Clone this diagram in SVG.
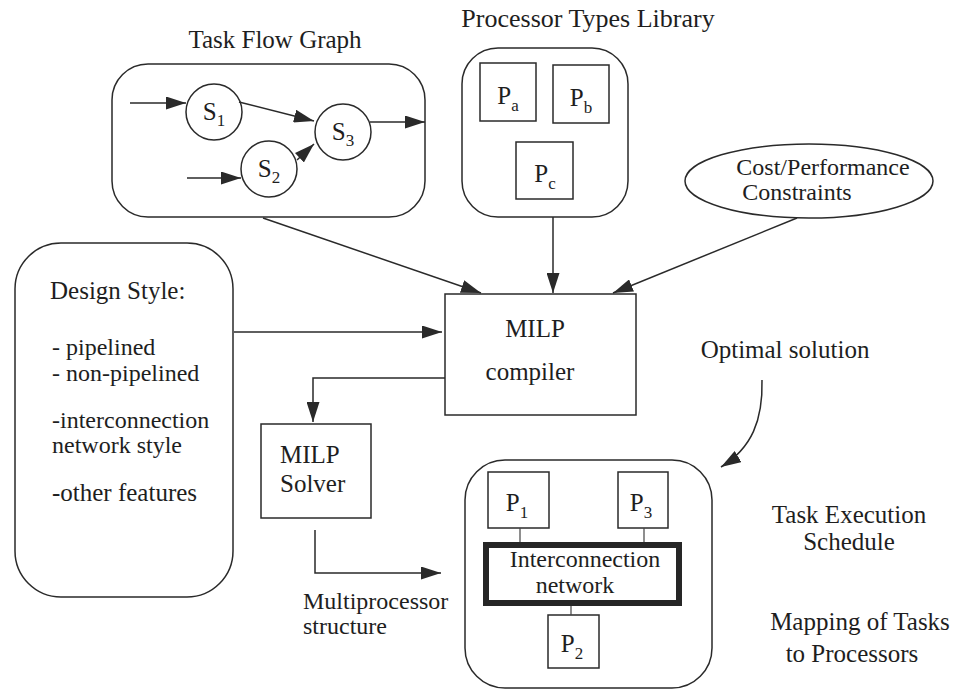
<svg xmlns="http://www.w3.org/2000/svg" width="956" height="689" viewBox="0 0 956 689">
  <defs>
    <marker id="arrow" markerUnits="userSpaceOnUse" markerWidth="21" markerHeight="13" refX="20" refY="6.5" orient="auto">
      <path d="M0,0 L20,6.5 L0,13 z" fill="#2a2a2a"/>
    </marker>
    <style>
      text { font-family: "Liberation Serif", "Times New Roman", serif; font-size: 25px; fill: #1e1e1e; }
      .box { fill: none; stroke: #2a2a2a; stroke-width: 1.5; }
      .thin { fill: none; stroke: #444; stroke-width: 1.2; }
      .edge { fill: none; stroke: #2a2a2a; stroke-width: 1.5; marker-end: url(#arrow); }
      .sub { font-size: 17px; }
      .mid { text-anchor: middle; }
      .tight { font-size: 24px; }
    </style>
  </defs>
  <rect width="956" height="689" fill="#ffffff"/>

  <!-- Task flow graph -->
  <g id="task-flow-graph">
    <text x="275" y="48" class="mid">Task Flow Graph</text>
    <rect x="112" y="64" width="313" height="153" rx="36" class="box"/>
    <circle cx="214" cy="112" r="28" class="box"/>
    <text x="214" y="120" class="mid">S<tspan class="sub" dy="6">1</tspan></text>
    <circle cx="269" cy="169" r="28" class="box"/>
    <text x="269" y="177" class="mid">S<tspan class="sub" dy="6">2</tspan></text>
    <circle cx="343" cy="132" r="28" class="box"/>
    <text x="343" y="140" class="mid">S<tspan class="sub" dy="6">3</tspan></text>
    <line x1="130" y1="103" x2="186" y2="103" class="edge"/>
    <line x1="239" y1="102" x2="314" y2="121" class="edge"/>
    <line x1="187" y1="178" x2="241" y2="178" class="edge"/>
    <line x1="297" y1="160" x2="314" y2="144" class="edge"/>
    <line x1="370" y1="122" x2="425" y2="122" class="edge"/>
  </g>

  <!-- Processor types library -->
  <g id="processor-library">
    <text x="588" y="27" class="mid" style="font-size:26px">Processor Types Library</text>
    <rect x="462" y="48" width="166" height="169" rx="36" class="box"/>
    <rect x="480" y="63" width="56" height="58" class="box"/>
    <text x="508" y="104" class="mid">P<tspan class="sub" dy="7">a</tspan></text>
    <rect x="553" y="65" width="56" height="58" class="box"/>
    <text x="581" y="106" class="mid">P<tspan class="sub" dy="7">b</tspan></text>
    <rect x="516" y="142" width="57" height="57" class="box"/>
    <text x="545" y="182" class="mid">P<tspan class="sub" dy="7">c</tspan></text>
  </g>

  <!-- Cost / performance constraints -->
  <g id="constraints">
    <ellipse cx="809" cy="181" rx="124" ry="37" class="box"/>
    <text x="823" y="175" class="mid tight">Cost/Performance</text>
    <text x="797" y="200" class="mid tight">Constraints</text>
  </g>

  <!-- Design style options -->
  <g id="design-style">
    <rect x="15" y="243" width="218" height="354" rx="46" class="box"/>
    <text x="50" y="299">Design Style:</text>
    <text x="52" y="355" class="tight">- pipelined</text>
    <text x="52" y="381" class="tight">- non-pipelined</text>
    <text x="52" y="428" class="tight">-interconnection</text>
    <text x="52" y="453" class="tight">network style</text>
    <text x="52" y="501">-other features</text>
  </g>

  <!-- MILP compiler -->
  <g id="milp-compiler">
    <rect x="445" y="294" width="191" height="121" class="box"/>
    <text x="535" y="337" class="mid">MILP</text>
    <text x="530" y="380" class="mid">compiler</text>
  </g>

  <!-- MILP solver -->
  <g id="milp-solver">
    <rect x="261" y="424" width="110" height="94" class="box"/>
    <text x="280" y="463">MILP</text>
    <text x="280" y="492">Solver</text>
  </g>

  <!-- Resulting multiprocessor -->
  <g id="multiprocessor">
    <rect x="465" y="460" width="247" height="228" rx="40" class="box"/>
    <rect x="488" y="472" width="61" height="56" class="box"/>
    <text x="517" y="511" class="mid">P<tspan class="sub" dy="7">1</tspan></text>
    <rect x="618" y="472" width="50" height="56" class="box"/>
    <text x="641" y="511" class="mid">P<tspan class="sub" dy="7">3</tspan></text>
    <rect x="548" y="615" width="51" height="53" class="box"/>
    <text x="572" y="652" class="mid">P<tspan class="sub" dy="7">2</tspan></text>
    <line x1="520" y1="528" x2="520" y2="542" class="thin"/>
    <line x1="644" y1="528" x2="644" y2="542" class="thin"/>
    <line x1="571" y1="606" x2="571" y2="615" class="thin"/>
    <rect x="486" y="545" width="193" height="58" fill="none" stroke="#262626" stroke-width="6"/>
    <text x="585" y="567" class="mid tight">Interconnection</text>
    <text x="575" y="593" class="mid tight">network</text>
  </g>

  <!-- Free labels -->
  <g id="labels">
    <text x="785" y="358" class="mid">Optimal solution</text>
    <text x="303" y="609" class="tight">Multiprocessor</text>
    <text x="303" y="634" class="tight">structure</text>
    <text x="849" y="523" class="mid">Task Execution</text>
    <text x="849" y="550" class="mid">Schedule</text>
    <text x="860" y="630" class="mid">Mapping of Tasks</text>
    <text x="852" y="662" class="mid">to Processors</text>
  </g>

  <!-- Connectors -->
  <g id="connectors">
    <line x1="263" y1="218" x2="481" y2="293" class="edge"/>
    <line x1="553" y1="217" x2="553" y2="293" class="edge"/>
    <line x1="797" y1="218" x2="613" y2="293" class="edge"/>
    <line x1="234" y1="332" x2="442" y2="332" class="edge"/>
    <polyline points="445,378 313,378 313,422" class="edge"/>
    <polyline points="315,530 315,573 441,573" class="edge"/>
    <path d="M762,380 C763,420 752,448 721,467" class="edge"/>
  </g>
</svg>
